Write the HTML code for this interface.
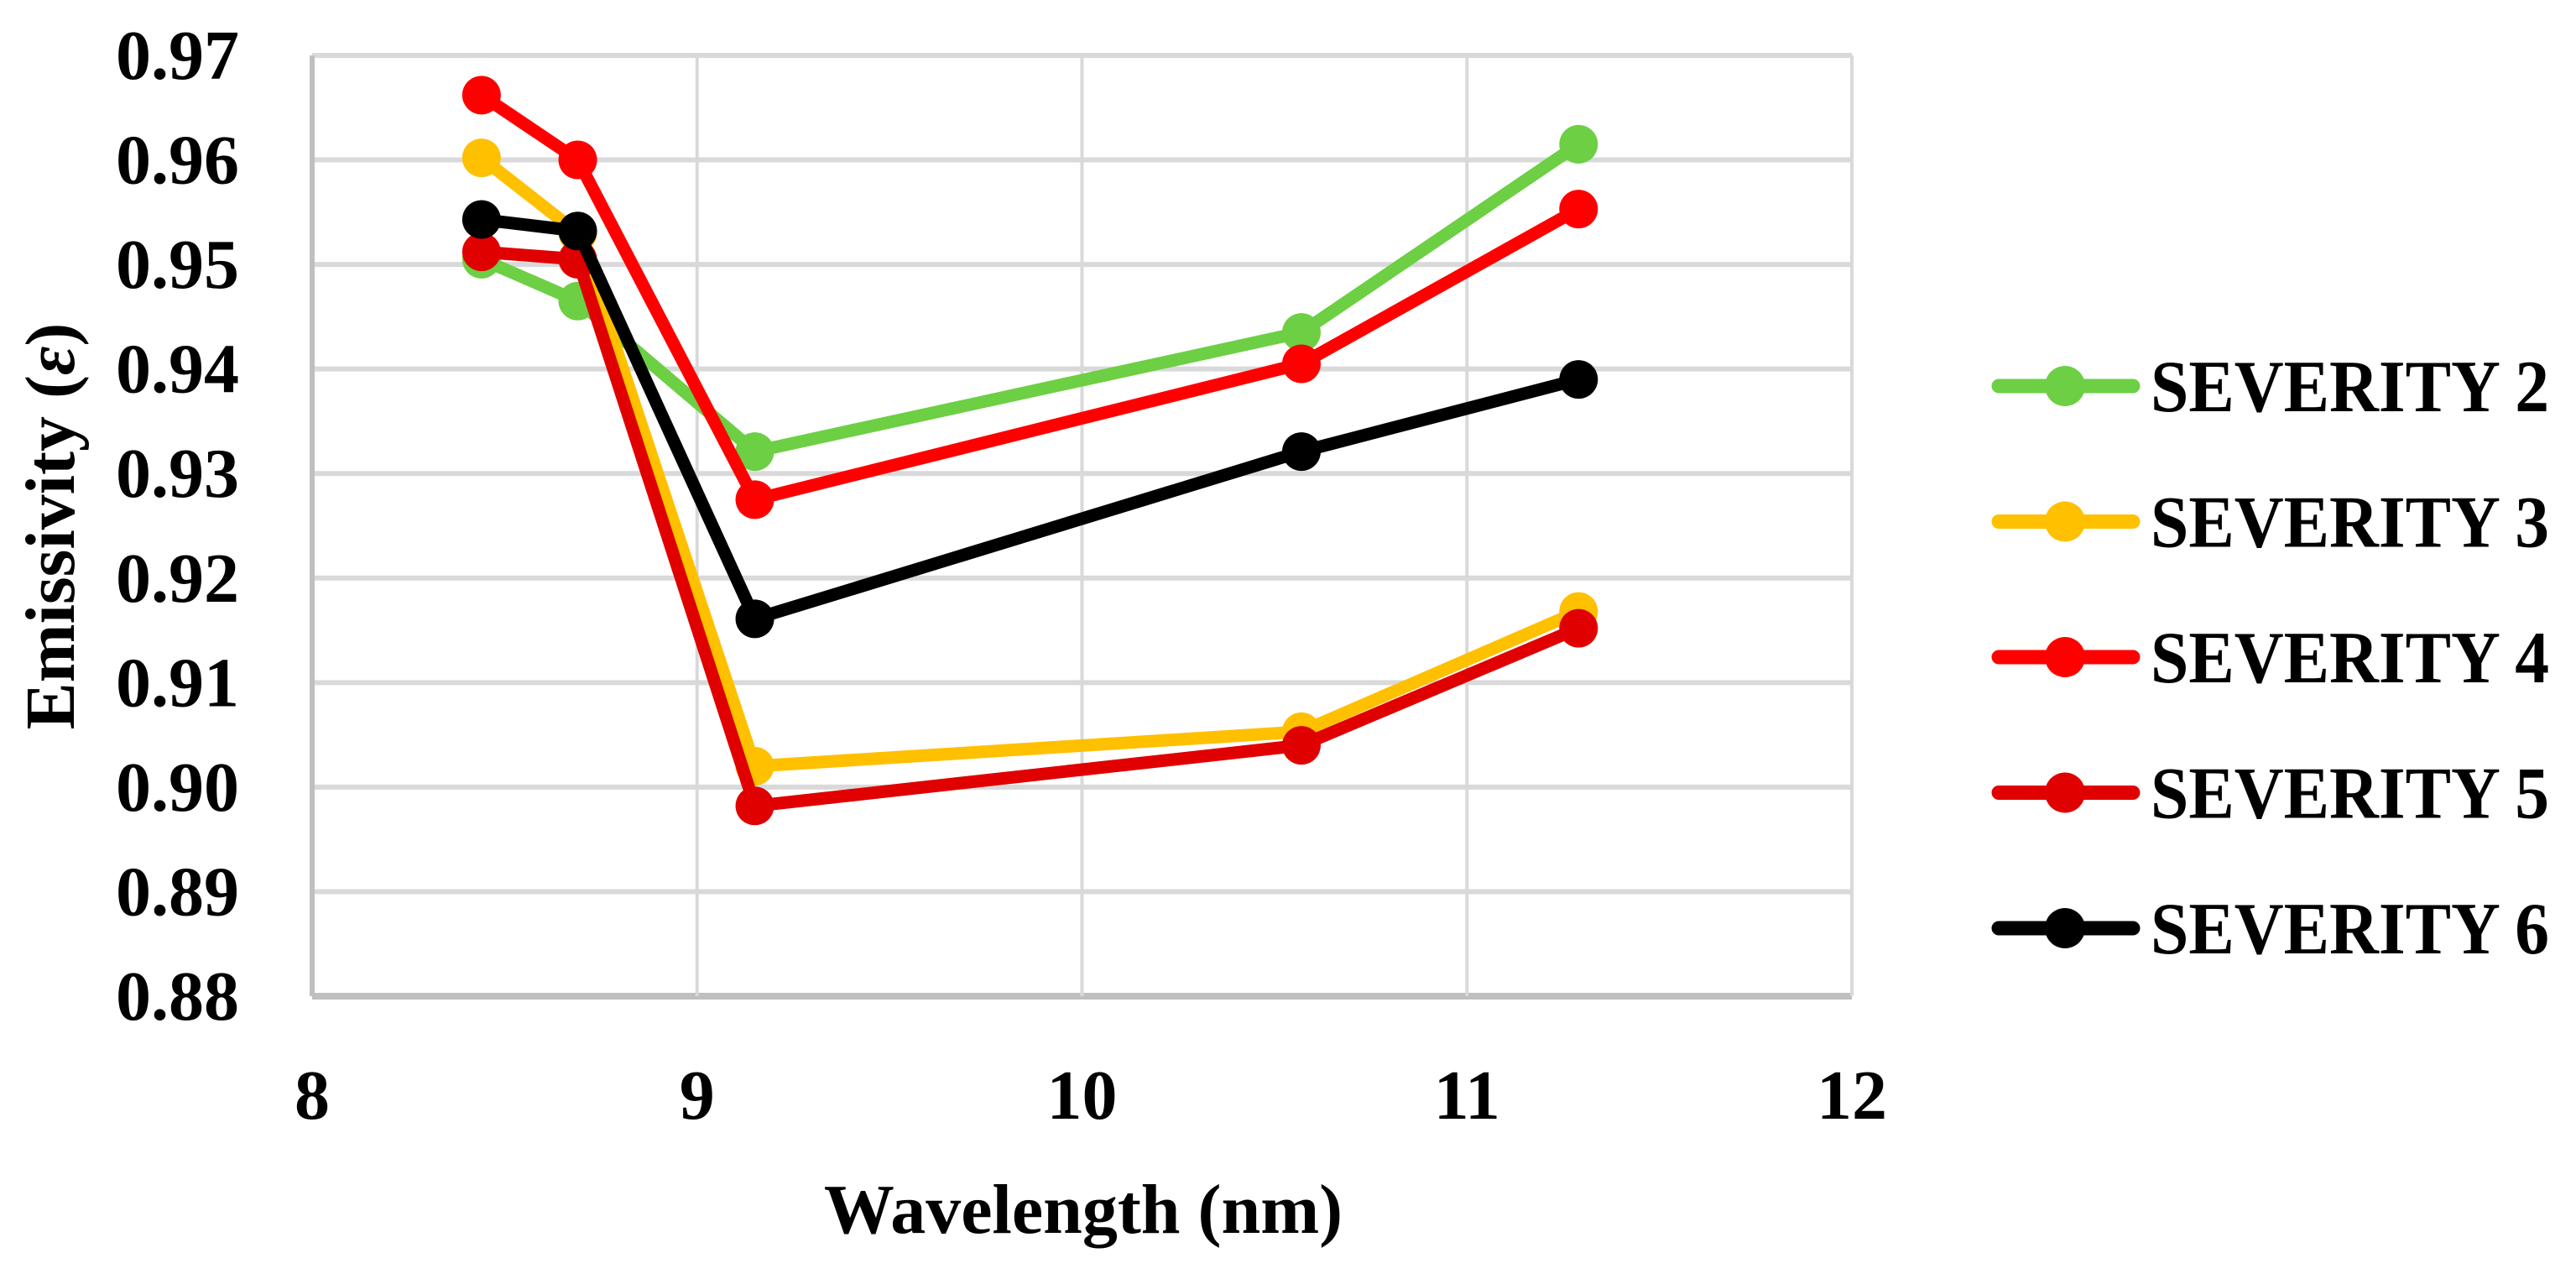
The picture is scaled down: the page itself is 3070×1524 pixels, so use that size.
<!DOCTYPE html>
<html><head><meta charset="utf-8"><style>
html,body{margin:0;padding:0;background:#fff;}
svg{display:block;}
text{font-family:"Liberation Serif","DejaVu Serif",serif;font-weight:bold;fill:#000;}
</style></head><body>
<svg id="chart" width="3070" height="1524" viewBox="0 0 3070 1524" xmlns="http://www.w3.org/2000/svg" font-family="Liberation Serif, DejaVu Serif, serif">
<g id="grid"></g>
<g id="yticks"></g>
<g id="xticks"></g>
<g id="series"></g>
<g id="legend"></g>
<text x="1291" y="1469" font-size="84" text-anchor="middle" font-family="Liberation Serif, DejaVu Serif, serif">Wavelength (nm)</text>
<text transform="translate(88,627) rotate(-90)" font-size="84" text-anchor="middle" font-family="Liberation Serif, DejaVu Serif, serif">Emissivity (<tspan font-style="italic">ε</tspan>)</text>
</svg>
<script>
const xValues = [8.44, 8.69, 9.15, 10.57, 11.29];
const seriesNames = ["SEVERITY 2","SEVERITY 3","SEVERITY 4","SEVERITY 5","SEVERITY 6"];
const sev2 = [0.9505, 0.9465, 0.9321, 0.9435, 0.9615];
const sev3 = [0.9602, 0.9530, 0.9020, 0.9053, 0.9168];
const sev4 = [0.9662, 0.9600, 0.9275, 0.9405, 0.9553];
const sev5 = [0.9512, 0.9505, 0.8982, 0.9040, 0.9152];
const sev6 = [0.9543, 0.9532, 0.9161, 0.9321, 0.9390];
const yTicks = ["0.88","0.89","0.90","0.91","0.92","0.93","0.94","0.95","0.96","0.97"];
const xTicks = ["8","9","10","11","12"];

const NS="http://www.w3.org/2000/svg";
const FF="Liberation Serif, DejaVu Serif, serif";
const L=372,R=2207,T=66,B=1187,XMIN=8,XMAX=12,YMIN=0.88,YMAX=0.97;
function xs(v){return L+(v-XMIN)/(XMAX-XMIN)*(R-L);}
function ys(v){return B-(v-YMIN)/(YMAX-YMIN)*(B-T);}
function mk(tag,attrs,parent){const e=document.createElementNS(NS,tag);for(const k in attrs)e.setAttribute(k,attrs[k]);parent.appendChild(e);return e;}
const grid=document.getElementById('grid'),yt=document.getElementById('yticks'),xt=document.getElementById('xticks'),sg=document.getElementById('series'),lg=document.getElementById('legend');

yTicks.forEach(t=>{const v=parseFloat(t);const y=ys(v);
  const ln=mk('line',{x1:L,x2:R,y1:y,y2:y,stroke:v===YMIN?'#bfbfbf':'#d9d9d9','stroke-width':v===YMIN?8:6},grid);
  
  
  const tx=mk('text',{x:285,y:y+28,'font-size':84,'text-anchor':'end','font-family':FF},yt);tx.textContent=t;
  
  
});
xTicks.forEach(t=>{const v=parseFloat(t);const x=xs(v);
  const ln=mk('line',{x1:x,x2:x,y1:T,y2:B,stroke:v===XMIN?'#bfbfbf':'#d9d9d9','stroke-width':v===XMIN?6:4},grid);
  
  
  const tx=mk('text',{x:x,y:1333,'font-size':84,'text-anchor':'middle','font-family':FF},xt);tx.textContent=t;
  
  
});
const allSeries=[sev2,sev3,sev4,sev5,sev6];
const colors=["#6dcf44","#ffc000","#ff0000","#e00000","#000000"];
[0,1,2,3,4].forEach(i=>{
  const g=mk('g',{},sg);
  
  
  const pts=allSeries[i].map((v,j)=>xs(xValues[j])+','+ys(v)).join(' ');
  const pl=mk('polyline',{points:pts,fill:'none',stroke:colors[i],'stroke-width':15,'stroke-linejoin':'round'},g);
  
  
  allSeries[i].forEach((v,j)=>{
    const c=mk('circle',{cx:xs(xValues[j]),cy:ys(v),r:23,fill:colors[i]},g);
    
    
  });
});
seriesNames.forEach((n,i)=>{
  const y=460+i*161.5;
  const g=mk('g',{},lg);
  
  
  mk('line',{x1:2382,x2:2542,y1:y,y2:y,stroke:colors[i],'stroke-width':17,'stroke-linecap':'round'},g);
  mk('circle',{cx:2461,cy:y,r:24,fill:colors[i]},g);
  const t=mk('text',{x:2563,y:y+30,'font-size':88,textLength:475,lengthAdjust:'spacingAndGlyphs','font-family':FF},g);
  t.textContent=n;
});
</script>
</body></html>
